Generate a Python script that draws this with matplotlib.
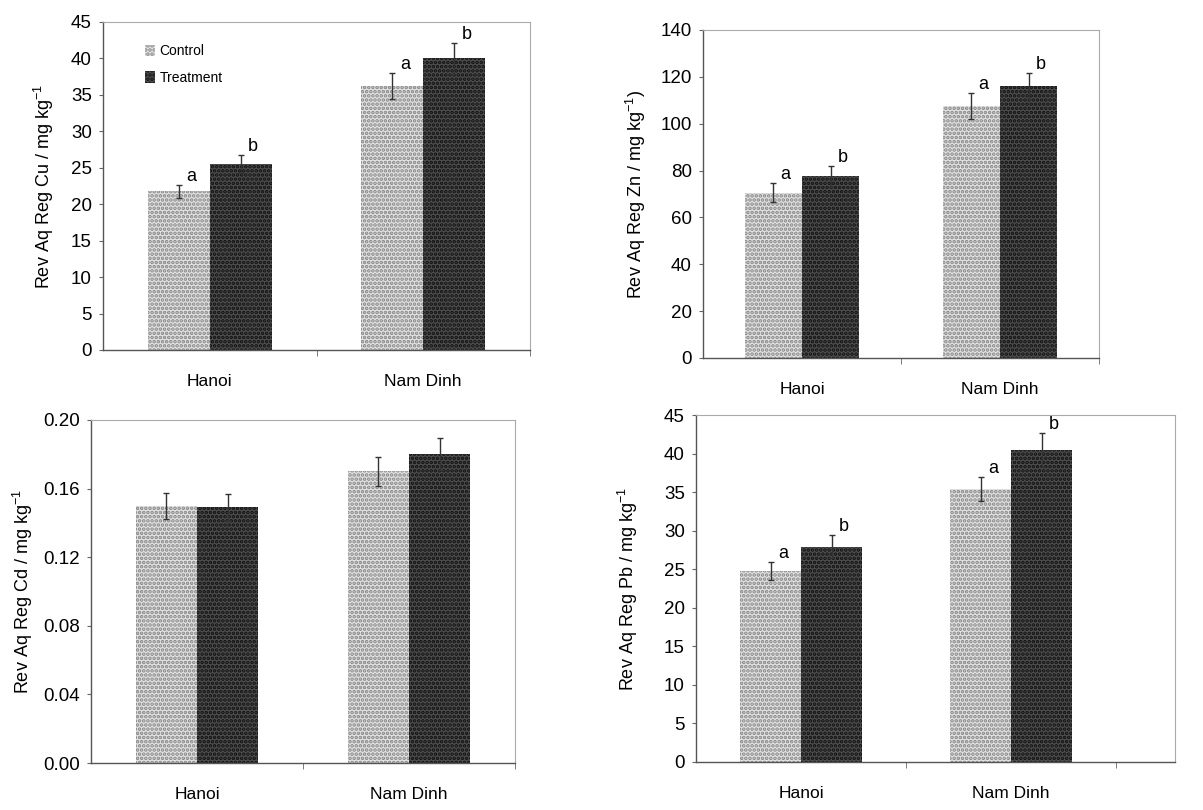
import numpy as np
import matplotlib
matplotlib.use("Agg")
import matplotlib.pyplot as plt
from matplotlib.ticker import FixedLocator, FormatStrFormatter
from matplotlib.patches import Patch

plt.rcParams['font.family'] = ['Liberation Sans', 'DejaVu Sans']
plt.rcParams['hatch.linewidth'] = 1.8
plt.rcParams['mathtext.fontset'] = 'custom'
plt.rcParams['mathtext.rm'] = 'Liberation Sans'

sites = ['Hanoi', 'Nam Dinh']

# mean and error for each metal, Control / Treatment
cu_control = [21.8, 36.2]
cu_control_err = [0.9, 1.8]
cu_treat = [25.5, 40.0]
cu_treat_err = [1.2, 2.1]

zn_control = [70.5, 107.5]
zn_control_err = [4.0, 5.5]
zn_treat = [77.5, 116.0]
zn_treat_err = [4.5, 5.5]

cd_control = [0.150, 0.170]
cd_control_err = [0.0075, 0.0087]
cd_treat = [0.149, 0.180]
cd_treat_err = [0.0078, 0.0093]

pb_control = [24.8, 35.4]
pb_control_err = [1.2, 1.6]
pb_treat = [27.9, 40.5]
pb_treat_err = [1.5, 2.2]

letters_control = ['a', 'a']
letters_treat = ['b', 'b']

W, H = 1203, 810
fig = plt.figure(figsize=(W / 100, H / 100), dpi=100)


def px_axes(left, right, top, bottom):
    return fig.add_axes([left / W, 1 - bottom / H, (right - left) / W, (bottom - top) / H])


panels = [
    # axes box, xlim right, data, ylim, ticks, ylabel, letters
    dict(box=(103, 530, 22, 350), xr=1.5, c=cu_control, ce=cu_control_err, t=cu_treat, te=cu_treat_err,
         ylim=45, ticks=np.arange(0, 46, 5), fmt='%d', ylabel='Rev Aq Reg Cu / mg kg$^{\\mathregular{-1}}$',
         letters=True, legend=True, labx=56),
    dict(box=(703, 1099, 30, 358), xr=1.5, c=zn_control, ce=zn_control_err, t=zn_treat, te=zn_treat_err,
         ylim=140, ticks=np.arange(0, 141, 20), fmt='%d', ylabel='Rev Aq Reg Zn / mg kg$^{\\mathregular{-1}}$)',
         letters=True, legend=False, labx=648),
    dict(box=(91, 515, 420, 763), xr=1.5, c=cd_control, ce=cd_control_err, t=cd_treat, te=cd_treat_err,
         ylim=0.20, ticks=np.arange(0, 0.201, 0.04), fmt='%.2f', ylabel='Rev Aq Reg Cd / mg kg$^{\\mathregular{-1}}$',
         letters=False, legend=False, labx=35),
    dict(box=(696, 1175, 415, 762), xr=1.78, c=pb_control, ce=pb_control_err, t=pb_treat, te=pb_treat_err,
         ylim=45, ticks=np.arange(0, 46, 5), fmt='%d', ylabel='Rev Aq Reg Pb / mg kg$^{\\mathregular{-1}}$',
         letters=True, legend=False, labx=640),
]

x = np.arange(len(sites))
bw = 0.29
ctrl_face, ctrl_dot = '#e2e2e2', '#858585'
trt_face, trt_dot = '#4e4e4e', '#101010'

for p in panels:
    l, r, t, b = p['box']
    ax = px_axes(l, r, t, b)
    ax.bar(x - bw / 2, p['c'], bw, color=ctrl_face, edgecolor=ctrl_dot, hatch='....',
           linewidth=0, label='Control', zorder=2)
    ax.bar(x + bw / 2, p['t'], bw, color=trt_face, edgecolor=trt_dot, hatch='....',
           linewidth=0, label='Treatment', zorder=2)
    ax.errorbar(x - bw / 2, p['c'], yerr=p['ce'], fmt='none', ecolor='#333333', elinewidth=1,
                capsize=2.5, capthick=1, zorder=3)
    ax.errorbar(x + bw / 2, p['t'], yerr=p['te'], fmt='none', ecolor='#333333', elinewidth=1,
                capsize=2.5, capthick=1, zorder=3)

    if p['letters']:
        for i in range(len(sites)):
            ax.text(x[i] - bw / 2 + 0.035, p['c'][i] + p['ce'][i], letters_control[i],
                    ha='left', va='bottom', fontsize=13, zorder=4)
            ax.text(x[i] + bw / 2 + 0.035, p['t'][i] + p['te'][i], letters_treat[i],
                    ha='left', va='bottom', fontsize=13, zorder=4)

    ax.set_xlim(-0.5, p['xr'])
    ax.set_ylim(0, p['ylim'])
    ax.set_yticks(p['ticks'])
    ax.yaxis.set_major_formatter(FormatStrFormatter(p['fmt']))
    ax.set_xticks(x)
    ax.set_xticklabels(sites)
    ax.xaxis.set_minor_locator(FixedLocator([0.5, 1.5]))
    ax.tick_params(axis='x', which='major', length=0, pad=17, labelsize=12.5)
    ax.tick_params(axis='x', which='minor', length=4, direction='out', color='#666666')
    ax.tick_params(axis='y', length=3, direction='out', color='#666666', labelsize=13.5, pad=5)

    for side in ['left', 'bottom']:
        ax.spines[side].set_color('#555555')
        ax.spines[side].set_linewidth(1.0)
    for side in ['top', 'right']:
        ax.spines[side].set_color('#aaaaaa')
        ax.spines[side].set_linewidth(0.8)

    ax.set_ylabel(p['ylabel'], fontsize=13)
    ax.yaxis.set_label_coords((p['labx'] - l) / (r - l), 0.5)

    if p['legend']:
        handles = [Patch(facecolor=ctrl_face, edgecolor=ctrl_dot, hatch='....', linewidth=0),
                   Patch(facecolor=trt_face, edgecolor=trt_dot, hatch='....', linewidth=0)]
        ax.legend(handles, ['Control', 'Treatment'], loc='upper left', bbox_to_anchor=(0.07, 0.97),
                  frameon=False, fontsize=10, handlelength=0.7, handleheight=0.9,
                  handletextpad=0.3, labelspacing=0.9)

fig.savefig('out.png', dpi=100)
